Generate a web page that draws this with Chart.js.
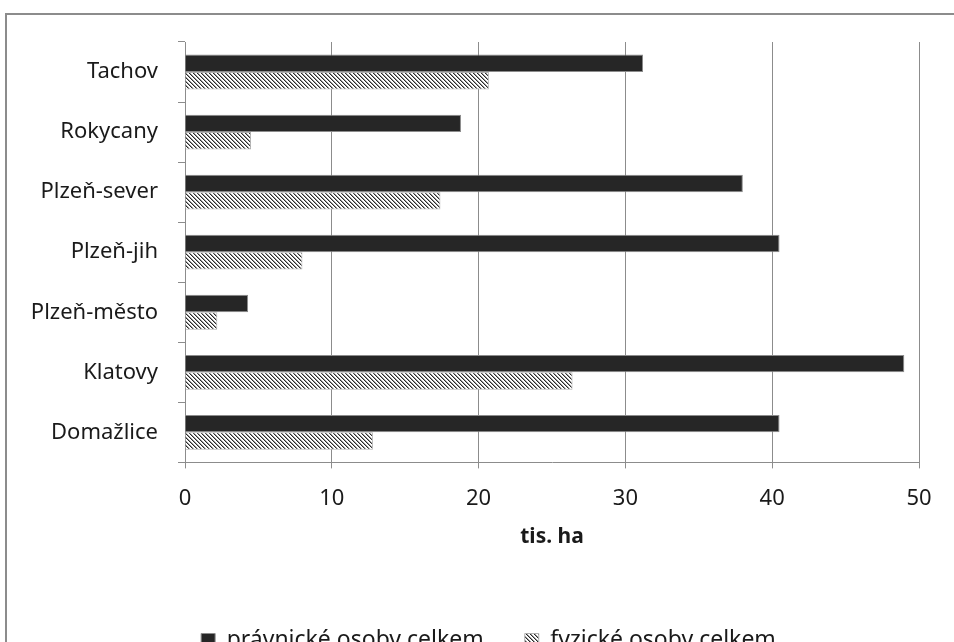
<!DOCTYPE html>
<html>
<head>
<meta charset="utf-8">
<script src="https://cdn.jsdelivr.net/npm/chart.js@4.4.1/dist/chart.umd.min.js"></script>
<style>
  html, body { margin: 0; padding: 0; background: #fff; overflow: hidden; }
  #frame {
    position: absolute; left: 5px; top: 13px; width: 980px; height: 700px;
    border-left: 2px solid #8c8c8c; border-top: 2px solid #8c8c8c;
  }
  #wrap { position: absolute; left: 0; top: 0; width: 954px; height: 662px; }
</style>
</head>
<body>
<div id="frame"></div>
<div id="wrap"><canvas id="chart"></canvas></div>
<script>
// data (tis. ha)
const districts = ['Tachov', 'Rokycany', 'Plzeň-sever', 'Plzeň-jih', 'Plzeň-město', 'Klatovy', 'Domažlice'];
const pravnicke = [31.2, 18.8, 38.0, 40.5, 4.3, 49.0, 40.5];
const fyzicke = [20.7, 4.5, 17.4, 8.0, 2.2, 26.4, 12.8];
const seriesNames = ['právnické osoby celkem', 'fyzické osoby celkem'];
const axisTitle = 'tis. ha';

const lineGray = '#8c8c8c';
const textColor = '#1a1a1a';
const fontFamily = '"Noto Sans", sans-serif';

// diagonal hatch ( \\\ ) like the Excel pattern fill
function makeHatch() {
    const c = document.createElement('canvas');
    c.width = 4;
    c.height = 4;
    const g = c.getContext('2d');
    g.fillStyle = '#ffffff';
    g.fillRect(0, 0, 4, 4);
    for (let i = 0; i < 4; i++) {
        g.fillStyle = '#2a2a2a';
        g.fillRect(i, i, 1, 1);
        g.fillStyle = '#9a9a9a';
        g.fillRect((i + 1) % 4, i, 1, 1);
    }
    return g.createPattern(c, 'repeat');
}
const hatch = makeHatch();

// the reference legend sits a bit right of the canvas centre
const legendShift = {
    id: 'legendShift',
    afterLayout(chart) {
        if (chart.legend) {
            chart.legend.left += 29;
            chart.legend.right += 29;
        }
    }
};

new Chart(document.getElementById('chart'), {
    type: 'bar',
    data: {
        labels: districts,
        datasets: [{
            label: seriesNames[0],
            data: pravnicke,
            backgroundColor: '#262626',
            borderColor: lineGray,
            borderWidth: 1,
            barPercentage: 1,
            categoryPercentage: 0.58
        }, {
            label: seriesNames[1],
            data: fyzicke,
            backgroundColor: hatch,
            borderColor: '#b0b0b0',
            borderWidth: 1,
            barPercentage: 1,
            categoryPercentage: 0.58
        }]
    },
    options: {
        indexAxis: 'y',
        responsive: true,
        maintainAspectRatio: false,
        animation: false,
        layout: {padding: {top: 42, right: 35, left: 0, bottom: 0}},
        plugins: {
            tooltip: {enabled: false},
            legend: {
                position: 'bottom',
                labels: {
                    color: textColor,
                    font: {family: fontFamily, size: 23},
                    boxWidth: 14,
                    boxHeight: 14,
                    padding: 41
                }
            }
        },
        scales: {
            x: {
                min: 0,
                max: 50,
                ticks: {
                    stepSize: 10,
                    color: textColor,
                    font: {family: fontFamily, size: 22},
                    padding: 17
                },
                grid: {color: lineGray, tickColor: lineGray, tickLength: 6, lineWidth: 1},
                border: {color: lineGray, width: 1},
                title: {
                    display: true,
                    text: axisTitle,
                    color: textColor,
                    font: {family: fontFamily, size: 21, weight: 'bold'},
                    padding: {top: -4, bottom: 38}
                }
            },
            y: {
                ticks: {
                    color: textColor,
                    font: {family: fontFamily, size: 22},
                    padding: 20
                },
                grid: {
                    offset: true,
                    drawOnChartArea: false,
                    color: lineGray,
                    tickColor: lineGray,
                    tickLength: 7
                },
                border: {color: lineGray, width: 1},
                afterFit: scale => { scale.width = 185; }
            }
        }
    },
    plugins: [legendShift]
});
</script>
</body>
</html>
